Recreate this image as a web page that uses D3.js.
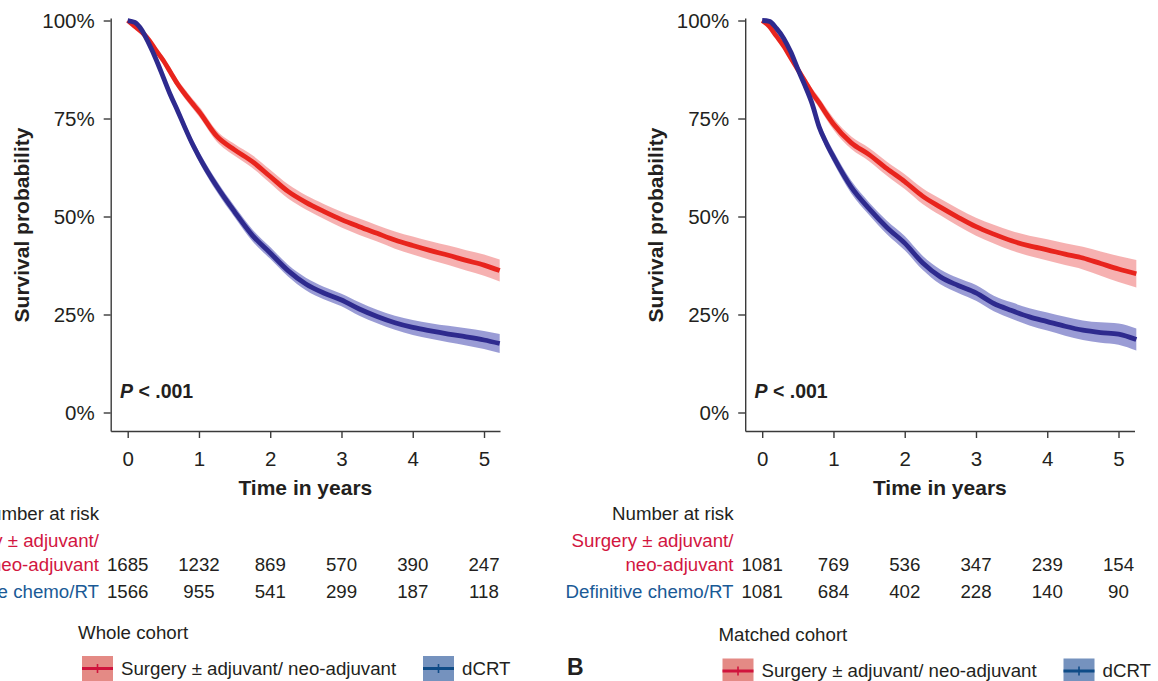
<!DOCTYPE html>
<html>
<head>
<meta charset="utf-8">
<script src="https://cdn.jsdelivr.net/npm/d3@7"></script>
<style>
  body { margin: 0; background: #fff; }
  text { font-family: "Liberation Sans", Arial, Helvetica, sans-serif; fill: #231f20; }
</style>
</head>
<body>
<svg id="chart" width="1158" height="681"></svg>
<script>
// survival estimates (%)
var wholeYears = [0, 0.1, 0.2, 0.3, 0.4, 0.5, 0.6, 0.7, 0.8, 0.9, 1.0, 1.25, 1.5, 1.75, 2.0, 2.25, 2.5, 2.75, 3.0, 3.25, 3.5, 3.75, 4.0, 4.25, 4.5, 4.75, 5.0, 5.22];
var wholeSurgery = [100, 98.5, 97, 95, 92.3, 89.8, 86.8, 83.8, 81.3, 79, 76.8, 70.5, 67, 64, 60.2, 56.4, 53.6, 51.3, 49.2, 47.4, 45.7, 44, 42.6, 41.3, 40.1, 38.8, 37.6, 36.2];
var wholeSurgeryCI = [0, 0.4, 0.6, 0.7, 0.8, 0.9, 1.0, 1.1, 1.2, 1.2, 1.3, 1.4, 1.5, 1.6, 1.7, 1.8, 1.8, 1.9, 2.0, 2.1, 2.1, 2.2, 2.3, 2.4, 2.5, 2.6, 2.7, 2.8];
var wholeDcrt = [100, 99.5, 97.5, 94, 90, 85.5, 81, 77, 72.8, 68.8, 65.3, 57.7, 51.2, 45.2, 40.7, 36.2, 32.8, 30.5, 28.7, 26.4, 24.5, 22.9, 21.7, 20.8, 20, 19.3, 18.5, 17.6];
var wholeDcrtCI = [0, 0.4, 0.6, 0.7, 0.8, 0.9, 1.0, 1.1, 1.2, 1.2, 1.3, 1.4, 1.4, 1.5, 1.5, 1.5, 1.6, 1.6, 1.6, 1.7, 1.7, 1.8, 1.9, 2.0, 2.1, 2.2, 2.3, 2.4];

var matchedYears = [0, 0.1, 0.2, 0.3, 0.4, 0.5, 0.6, 0.7, 0.8, 0.9, 1.0, 1.25, 1.5, 1.75, 2.0, 2.25, 2.5, 2.75, 3.0, 3.25, 3.5, 3.75, 4.0, 4.25, 4.5, 4.75, 5.0, 5.25];
var matchedSurgery = [100, 98.5, 96, 93.5, 90.5, 87.5, 84.5, 81.5, 79, 76.2, 73.6, 68.8, 65.8, 62.2, 58.9, 55.2, 52.4, 49.8, 47.4, 45.5, 43.8, 42.5, 41.5, 40.4, 39.4, 38, 36.6, 35.4];
var matchedSurgeryCI = [0, 0.5, 0.7, 0.8, 0.9, 1.0, 1.1, 1.2, 1.3, 1.4, 1.5, 1.6, 1.7, 1.8, 1.9, 2.0, 2.1, 2.2, 2.3, 2.4, 2.5, 2.6, 2.7, 2.8, 2.9, 3.1, 3.3, 3.5];
var matchedDcrt = [100, 99.8, 98, 95.5, 92, 87.6, 83.4, 78.8, 72.8, 68.7, 65.2, 57.5, 52, 47.2, 43.2, 38.2, 34.6, 32.4, 30.5, 27.8, 26, 24.4, 23.2, 22, 21, 20.4, 20, 18.6];
var matchedDcrtCI = [0, 0.5, 0.7, 0.8, 0.9, 1.0, 1.1, 1.2, 1.3, 1.4, 1.5, 1.6, 1.6, 1.7, 1.8, 1.8, 1.9, 1.9, 2.0, 2.0, 2.1, 2.2, 2.3, 2.4, 2.5, 2.6, 2.7, 2.8];

var tickYears = [0, 1, 2, 3, 4, 5];
var tickPercents = [0, 25, 50, 75, 100];

// number at risk at each tick year
var riskWholeSurgery = [1685, 1232, 869, 570, 390, 247];
var riskWholeDcrt = [1566, 955, 541, 299, 187, 118];
var riskMatchedSurgery = [1081, 769, 536, 347, 239, 154];
var riskMatchedDcrt = [1081, 684, 402, 228, 140, 90];

var riskLabels = ["Surgery ± adjuvant/", "neo-adjuvant", "Definitive chemo/RT"];
var groupNames = ["Surgery ± adjuvant/ neo-adjuvant", "dCRT"];
var cohortNames = ["Whole cohort", "Matched cohort"];

var RED_LINE = "#e8241d", RED_BAND = "#f5a9a8";
var BLUE_LINE = "#2e2a8e", BLUE_BAND = "#8f91d0";

var svg = d3.select("#chart");

var x = d3.scaleLinear().domain([-0.2386, 5.2244]).range([110.7, 500]);
var y = d3.scaleLinear().domain([-4.72, 100.64]).range([431, 18]);

function drawPanel(dx, years, surv, risk) {
  var g = svg.append("g").attr("transform", "translate(" + dx + ",0)");

  // confidence bands first, then the curves on top
  surv.forEach(function(s) {
    var area = d3.area()
      .x(function(d, i) { return x(years[i]); })
      .y0(function(d, i) { return y(d - s.ci[i]); })
      .y1(function(d, i) { return y(Math.min(100.5, d + s.ci[i])); })
      .curve(d3.curveMonotoneX);
    g.append("path").datum(s.values)
      .attr("d", area)
      .attr("fill", s.band)
      .attr("opacity", 0.9);
  });
  surv.forEach(function(s) {
    var line = d3.line()
      .x(function(d, i) { return x(years[i]); })
      .y(function(d) { return y(d); })
      .curve(d3.curveMonotoneX);
    g.append("path").datum(s.values)
      .attr("d", line)
      .attr("fill", "none")
      .attr("stroke", s.color)
      .attr("stroke-width", 4.8)
      .attr("stroke-linejoin", "round");
  });

  var yAxis = g.append("g")
    .attr("transform", "translate(" + x.range()[0] + ",0)")
    .call(d3.axisLeft(y).tickValues(tickPercents)
      .tickFormat(function(d) { return d + "%"; })
      .tickSize(7).tickSizeOuter(0).tickPadding(9));
  var xAxis = g.append("g")
    .attr("transform", "translate(0," + y.range()[0] + ")")
    .call(d3.axisBottom(x).tickValues(tickYears).tickFormat(d3.format("d"))
      .tickSize(7).tickSizeOuter(0).tickPadding(13));

  [yAxis, xAxis].forEach(function(a) {
    a.selectAll("path, line").attr("stroke", "#3a3a3a").attr("stroke-width", 1.4);
    a.selectAll("text").style("font-size", "20.5px").attr("fill", "#231f20")
      .style("font-family", "'Liberation Sans', Arial, sans-serif");
  });

  g.append("text")
    .attr("transform", "rotate(-90)")
    .attr("x", -225).attr("y", 28.5)
    .attr("text-anchor", "middle")
    .style("font-size", "21px").style("font-weight", "bold")
    .text("Survival probability");

  g.append("text")
    .attr("x", (x.range()[0] + x.range()[1]) / 2).attr("y", 495)
    .attr("text-anchor", "middle")
    .style("font-size", "21px").style("font-weight", "bold")
    .text("Time in years");

  var p = g.append("text").attr("x", 120).attr("y", 398)
    .style("font-size", "19.5px").style("font-weight", "bold");
  p.append("tspan").style("font-style", "italic").text("P");
  p.append("tspan").text(" < .001");

  // number at risk table
  var labels = [
    { t: "Number at risk", y: 519.5, c: "#231f20" },
    { t: riskLabels[0], y: 546.5, c: "#d2163f" },
    { t: riskLabels[1], y: 570.5, c: "#d2163f" },
    { t: riskLabels[2], y: 597.5, c: "#1a5a96" }
  ];
  g.selectAll(".risklab").data(labels).enter().append("text")
    .attr("x", 99).attr("y", function(d) { return d.y; })
    .attr("text-anchor", "end")
    .style("font-size", "18.7px")
    .style("fill", function(d) { return d.c; })
    .text(function(d) { return d.t; });

  [[risk[0], 570.5], [risk[1], 597.5]].forEach(function(row) {
    g.selectAll(null).data(row[0]).enter().append("text")
      .attr("x", function(d, i) { return x(tickYears[i]); })
      .attr("y", row[1])
      .attr("text-anchor", "middle")
      .style("font-size", "18.7px")
      .text(function(d) { return d; });
  });
}

function drawLegend(dx, dy, title) {
  var g = svg.append("g").attr("transform", "translate(" + dx + "," + dy + ")");
  g.append("text").attr("x", 78).attr("y", 638.5).style("font-size", "18.7px").text(title);
  var items = [
    { name: groupNames[0], x: 82, fill: "#e48a85", stroke: "#d0143d", tx: 121 },
    { name: groupNames[1], x: 423, fill: "#7592be", stroke: "#0f4c87", tx: 462 }
  ];
  items.forEach(function(it) {
    g.append("rect").attr("x", it.x).attr("y", 656).attr("width", 31).attr("height", 26).attr("fill", it.fill);
    g.append("line").attr("x1", it.x).attr("x2", it.x + 31).attr("y1", 668.5).attr("y2", 668.5)
      .attr("stroke", it.stroke).attr("stroke-width", 3);
    g.append("line").attr("x1", it.x + 15.5).attr("x2", it.x + 15.5).attr("y1", 664).attr("y2", 673)
      .attr("stroke", it.stroke).attr("stroke-width", 1.6);
    g.append("text").attr("x", it.tx).attr("y", 674.5).style("font-size", "18.7px").text(it.name);
  });
}

drawPanel(0, wholeYears, [
  { values: wholeSurgery, ci: wholeSurgeryCI, color: RED_LINE, band: RED_BAND },
  { values: wholeDcrt, ci: wholeDcrtCI, color: BLUE_LINE, band: BLUE_BAND }
], [riskWholeSurgery, riskWholeDcrt]);

drawPanel(634.5, matchedYears, [
  { values: matchedSurgery, ci: matchedSurgeryCI, color: RED_LINE, band: RED_BAND },
  { values: matchedDcrt, ci: matchedDcrtCI, color: BLUE_LINE, band: BLUE_BAND }
], [riskMatchedSurgery, riskMatchedDcrt]);

drawLegend(0, 0, cohortNames[0]);
drawLegend(640.5, 2.5, cohortNames[1]);

svg.append("text").attr("x", 567).attr("y", 675)
  .style("font-size", "23px").style("font-weight", "bold").text("B");
</script>
</body>
</html>
